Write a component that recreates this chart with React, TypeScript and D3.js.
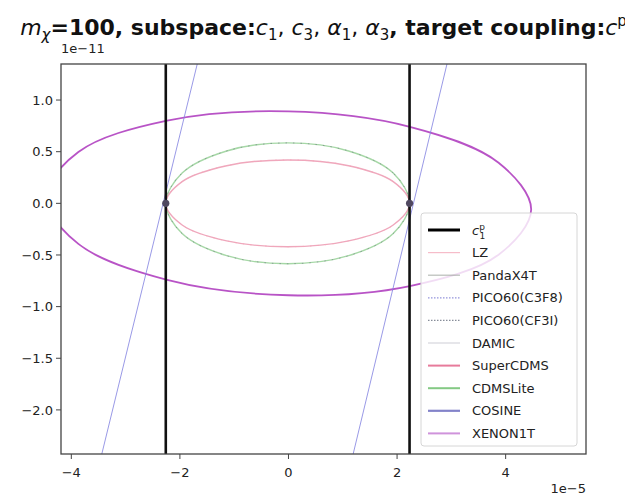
import React from "react";
import * as d3 from "d3";

// axis ticks (x in units of 1e-5, y in units of 1e-11)
const xTicks = [-4, -2, 0, 2, 4];
const yTicks = [1.0, 0.5, 0.0, -0.5, -1.0, -1.5, -2.0];

// c_1^p boundaries and the two marked points
const couplingX = [-2.26, 2.23];
const markerX = [-2.26, 2.23];
const markerY = [0, 0];

// XENON1T contour
const xenonX = [4.47, 3.87, 2.235, 0, -2.235, -3.87, -4.47, -3.87, -2.235, 0, 2.235, 3.87];
const xenonY = [-0.06, 0.393, 0.741, 0.89, 0.801, 0.497, 0.06, -0.393, -0.741, -0.89, -0.801, -0.497];

// CDMSLite contour
const cdmsLiteX = [2.23, 1.929, 1.108, -0.015, -1.138, -1.959, -2.26, -1.959, -1.138, -0.015, 1.108, 1.929];
const cdmsLiteY = [0, 0.293, 0.507, 0.585, 0.507, 0.293, 0, -0.293, -0.507, -0.585, -0.507, -0.293];

// SuperCDMS contour
const superCdmsX = [2.23, 1.929, 1.108, -0.015, -1.138, -1.959, -2.26, -1.959, -1.138, -0.015, 1.108, 1.929];
const superCdmsY = [0, 0.21, 0.364, 0.42, 0.364, 0.21, 0, -0.21, -0.364, -0.42, -0.364, -0.21];

// COSINE bands (two straight edges)
const cosineLeftX = [-3.44, -1.68];
const cosineLeftY = [-2.43, 1.35];
const cosineRightX = [1.19, 2.92];
const cosineRightY = [-2.43, 1.35];

const legendLabels = ["c1p", "LZ", "PandaX4T", "PICO60(C3F8)", "PICO60(CF3I)", "DAMIC", "SuperCDMS", "CDMSLite", "COSINE", "XENON1T"];
const legendColors = ["#000000", "#f4a6b8", "#a0a8a0", "#7070d0", "#606878", "#c8c8d0", "#e0507a", "#5cb85c", "#5a5ab8", "#c070d0"];
const legendDash = ["", "", "", "1.5,1.5", "1.5,1.5", "", "", "", "", ""];
const legendWidth = [3, 1.2, 1.2, 1.2, 1.2, 1.2, 2, 2, 2.2, 2];

const W = 625;
const H = 498;
const L = 61, R = 586, T = 64, B = 454;
const FONT = "DejaVu Sans, sans-serif";

export default function App() {
  const x = d3.scaleLinear().domain([-4.19, 5.48]).range([L, R]);
  const y = d3.scaleLinear().domain([-2.427, 1.349]).range([B, T]);

  const closed = d3
    .line<number>()
    .curve(d3.curveCatmullRomClosed.alpha(0.5));

  const contour = (xs: number[], ys: number[]) =>
    closed.x((_, i) => x(xs[i])).y((_, i) => y(ys[i]))(xs.map((_, i) => i)) || "";

  const straight = (xs: number[], ys: number[]) =>
    d3.line<number>().x((_, i) => x(xs[i])).y((_, i) => y(ys[i]))(xs.map((_, i) => i)) || "";

  const fmtY = (v: number) => v.toFixed(1).replace("-", "\u2212");
  const fmtX = (v: number) => String(v).replace("-", "\u2212");

  const rowY = (i: number) => 230 + i * 22.6;

  return (
    <div style={{ position: "absolute", left: 0, top: 0 }}>
      <svg width={W} height={H} style={{ display: "block", background: "#fff" }} fontFamily={FONT}>
        <defs>
          <clipPath id="plot">
            <rect x={L} y={T} width={R - L} height={B - T} />
          </clipPath>
        </defs>

        {/* title, runs off the right edge as in the original */}
        <text x={(L + R) / 2} y={35} fontSize={22} textAnchor="middle" fill="#111">
          <tspan fontStyle="italic">m</tspan>
          <tspan fontStyle="italic" fontSize={15} dy={5}>χ</tspan>
          <tspan fontWeight="bold" dy={-5}>=100, subspace:</tspan>
          <tspan fontStyle="italic">c</tspan>
          <tspan fontSize={15} dy={5}>1</tspan>
          <tspan dy={-5}>, </tspan>
          <tspan fontStyle="italic">c</tspan>
          <tspan fontSize={15} dy={5}>3</tspan>
          <tspan dy={-5}>, </tspan>
          <tspan fontStyle="italic">α</tspan>
          <tspan fontSize={15} dy={5}>1</tspan>
          <tspan dy={-5}>, </tspan>
          <tspan fontStyle="italic">α</tspan>
          <tspan fontSize={15} dy={5}>3</tspan>
          <tspan fontWeight="bold" dy={-5}>, target coupling:</tspan>
          <tspan fontStyle="italic">c</tspan>
          <tspan fontSize={15} dy={-9}>p</tspan>
        </text>

        <g clipPath="url(#plot)">
          <path d={contour(xenonX, xenonY)} fill="none" stroke="#b040c0" strokeWidth={1.8} opacity={0.9} />
          <path d={contour(cdmsLiteX, cdmsLiteY)} fill="none" stroke="#5cb85c" strokeWidth={1.4} opacity={0.55} />
          <path d={contour(cdmsLiteX, cdmsLiteY)} fill="none" stroke="#606878" strokeWidth={1} strokeDasharray="1.5,6" opacity={0.5} />
          <path d={contour(superCdmsX, superCdmsY)} fill="none" stroke="#e0507a" strokeWidth={1.4} opacity={0.5} />
          <path d={contour(superCdmsX, superCdmsY)} fill="none" stroke="#f4a6b8" strokeWidth={1} strokeDasharray="1.5,6" opacity={0.8} />
          <path d={straight(cosineLeftX, cosineLeftY)} fill="none" stroke="#8080e0" strokeWidth={1} opacity={0.8} />
          <path d={straight(cosineRightX, cosineRightY)} fill="none" stroke="#8080e0" strokeWidth={1} opacity={0.8} />
          {couplingX.map((v, i) => (
            <line key={i} x1={x(v)} x2={x(v)} y1={T} y2={B} stroke="#111" strokeWidth={2.6} />
          ))}
          {markerX.map((v, i) => (
            <circle key={i} cx={x(v)} cy={y(markerY[i])} r={3.6} fill="#504860" />
          ))}
        </g>

        {/* frame */}
        <rect x={L} y={T} width={R - L} height={B - T} fill="none" stroke="#444" strokeWidth={1.3} />

        {/* x axis */}
        {xTicks.map((v) => (
          <g key={v}>
            <line x1={x(v)} x2={x(v)} y1={B} y2={B + 5} stroke="#444" strokeWidth={1} />
            <text x={x(v)} y={477} fontSize={13} textAnchor="middle" fill="#222">
              {fmtX(v)}
            </text>
          </g>
        ))}
        <text x={R} y={493} fontSize={13} textAnchor="end" fill="#222">1e−5</text>

        {/* y axis */}
        {yTicks.map((v) => (
          <g key={v}>
            <line x1={L - 5} x2={L} y1={y(v)} y2={y(v)} stroke="#444" strokeWidth={1} />
            <text x={L - 8} y={y(v)} dy="0.36em" fontSize={13} textAnchor="end" fill="#222">
              {fmtY(v)}
            </text>
          </g>
        ))}
        <text x={L} y={53} fontSize={13} fill="#222">1e−11</text>

        {/* legend */}
        <rect x={421} y={213} width={156} height={233} rx={3} fill="#fff" fillOpacity={0.8} stroke="#d6d6d6" strokeWidth={1} />
        {legendLabels.map((lab, i) => (
          <g key={lab}>
            <line
              x1={428}
              x2={460}
              y1={rowY(i)}
              y2={rowY(i)}
              stroke={legendColors[i]}
              strokeWidth={legendWidth[i]}
              strokeDasharray={legendDash[i]}
              opacity={i === 0 ? 1 : 0.75}
            />
            {i === 0 ? (
              <text x={472} y={rowY(i)} dy="0.36em" fontSize={13} fill="#222">
                <tspan fontStyle="italic">c</tspan>
                <tspan fontSize={9} dy={-5}>p</tspan>
                <tspan fontSize={9} dx={-5.5} dy={9}>1</tspan>
              </text>
            ) : (
              <text x={472} y={rowY(i)} dy="0.36em" fontSize={13} fill="#222">
                {lab}
              </text>
            )}
          </g>
        ))}
      </svg>
    </div>
  );
}
